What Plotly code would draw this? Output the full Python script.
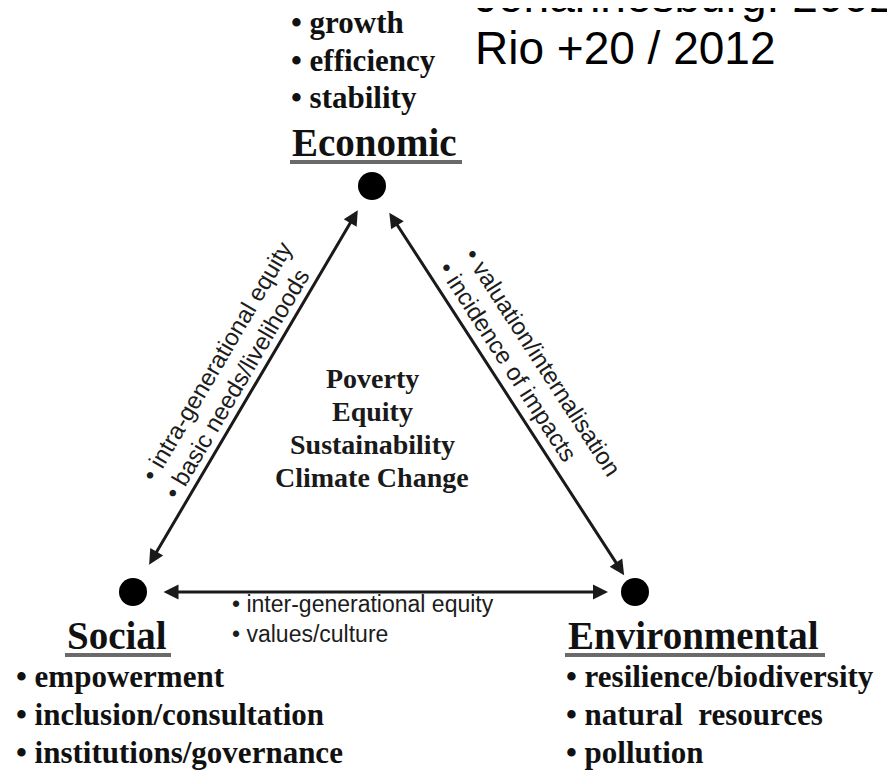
import math
import plotly.graph_objects as go

W, H = 895, 779
PAGE_PAD = 8  # browser body margin; axis ranges are shifted so data units = window pixels

# ---------------- data ----------------
nodes = ["Economic", "Social", "Environmental"]
node_x = [372, 133, 635]
node_y = [186, 592, 592]

economic_items = ["growth", "efficiency", "stability"]
social_items = ["empowerment", "inclusion/consultation", "institutions/governance"]
environmental_items = ["resilience/biodiversity", "natural  resources", "pollution"]

edge_social_economic = ["intra-generational equity", "basic needs/livelihoods"]
edge_economic_environmental = ["valuation/internalisation", "incidence of impacts"]
edge_social_environmental = ["inter-generational equity", "values/culture"]

centre_topics = ["Poverty", "Equity", "Sustainability", "Climate Change"]

conference_lines = ["Johannesburg: 2002", "Rio +20 / 2012"]

# ---------------- style ----------------
SERIF = "Liberation Serif, Times New Roman, serif"
SANS = "Liberation Sans, Arial, sans-serif"
INK = "#111111"

pos = {n: (x, y) for n, x, y in zip(nodes, node_x, node_y)}

label_style = {  # dx, dy of label centre from dot; underline half width, dx of underline centre
    "Economic": dict(dx=2, dy=-44, half=86, udx=4),
    "Social": dict(dx=-16, dy=43, half=53, udx=-15),
    "Environmental": dict(dx=58, dy=43, half=130, udx=60),
}
items = {"Economic": economic_items, "Social": social_items, "Environmental": environmental_items}
item_style = {  # left x offset, first row offset, row spacing
    "Economic": dict(dx=-82, dy=-163.5, step=37.5),
    "Social": dict(dx=-118, dy=84.5, step=38),
    "Environmental": dict(dx=-70, dy=84.5, step=38),
}

edges = [
    dict(a="Social", b="Economic", cut=(30, 28), labels=edge_social_economic,
         along=[242, 232], perp=[45, 16]),
    dict(a="Economic", b="Environmental", cut=(30, 20), labels=edge_economic_environmental,
         along=[241, 221], perp=[48, 19]),
    dict(a="Social", b="Environmental", cut=(29, 27), labels=edge_social_environmental),
]

fig = go.Figure()
annotations = []
shapes = []

# dots
fig.add_trace(go.Scatter(x=node_x, y=node_y, mode="markers",
                         marker=dict(size=28, color="black"), hoverinfo="skip"))

# node labels + underline + bullet lists
for n in nodes:
    x, y = pos[n]
    st = label_style[n]
    annotations.append(dict(x=x + st["dx"], y=y + st["dy"], text=f"<b>{n}</b>",
                            showarrow=False, xanchor="center", yanchor="middle",
                            font=dict(family=SERIF, size=39, color=INK)))
    uy = y + st["dy"] + 20
    ux = x + st["udx"]
    shapes.append(dict(type="line", x0=ux - st["half"], x1=ux + st["half"], y0=uy, y1=uy,
                       xref="x", yref="y", line=dict(color="#6a6a6a", width=4)))
    ist = item_style[n]
    for i, t in enumerate(items[n]):
        annotations.append(dict(x=x + ist["dx"], y=y + ist["dy"] + i * ist["step"],
                                text=f"<b>• {t}</b>", showarrow=False,
                                xanchor="left", yanchor="middle", borderpad=0,
                                font=dict(family=SERIF, size=31, color=INK)))

# arrows and edge labels
for e in edges:
    ax_, ay_ = pos[e["a"]]
    bx_, by_ = pos[e["b"]]
    dx, dy = bx_ - ax_, by_ - ay_
    L = math.hypot(dx, dy)
    ux, uy = dx / L, dy / L
    sx, sy = ax_ + ux * e["cut"][0], ay_ + uy * e["cut"][0]
    tx, ty = bx_ - ux * e["cut"][1], by_ - uy * e["cut"][1]
    annotations.append(dict(x=tx, y=ty, ax=sx, ay=sy, xref="x", yref="y",
                            axref="x", ayref="y", text="", showarrow=True,
                            arrowhead=2, startarrowhead=2, arrowside="end+start",
                            arrowsize=1, startarrowsize=1, arrowwidth=3,
                            arrowcolor="#1a1a1a", standoff=0, startstandoff=0))
    if "along" in e:
        nx, ny = uy, -ux
        ang = math.degrees(math.atan2(uy, ux))
        for t, al, pp in zip(e["labels"], e["along"], e["perp"]):
            cx = ax_ + ux * al + nx * pp
            cy = ay_ + uy * al + ny * pp
            annotations.append(dict(x=cx, y=cy, text=f"• {t}", showarrow=False,
                                    textangle=ang, xanchor="center", yanchor="middle",
                                    font=dict(family=SANS, size=24, color="#1c1c1c")))
    else:
        block = "<br>".join(f"• {t}" for t in e["labels"])
        annotations.append(dict(x=ax_ + 98, y=ay_ + 27, text=block, align="left",
                                showarrow=False, xanchor="left", yanchor="middle",
                                borderpad=0,
                                font=dict(family=SANS, size=23, color="#1c1c1c")))

# centre topics
ex, ey = pos["Economic"]
for i, t in enumerate(centre_topics):
    annotations.append(dict(x=ex, y=ey + 192 + i * 33.3, text=f"<b>{t}</b>",
                            showarrow=False, xanchor="center", yanchor="middle",
                            font=dict(family=SERIF, size=28, color="#1a1a1a")))

# conference text (top right); first line partly cut by the top edge
conf_bottom = [23, 75]
for t, yb in zip(conference_lines, conf_bottom):
    annotations.append(dict(x=474, y=yb, text=t, showarrow=False,
                            xanchor="left", yanchor="bottom", borderpad=0,
                            font=dict(family=SANS, size=46, color="black")))

fig.update_layout(
    width=W, height=H, autosize=False,
    margin=dict(l=0, r=0, t=0, b=0),
    paper_bgcolor="white", plot_bgcolor="white",
    showlegend=False,
    xaxis=dict(range=[PAGE_PAD, W + PAGE_PAD], visible=False, fixedrange=True),
    yaxis=dict(range=[H + PAGE_PAD, PAGE_PAD], visible=False, fixedrange=True),
    annotations=annotations,
    shapes=shapes,
)

fig.write_html("out.html")
